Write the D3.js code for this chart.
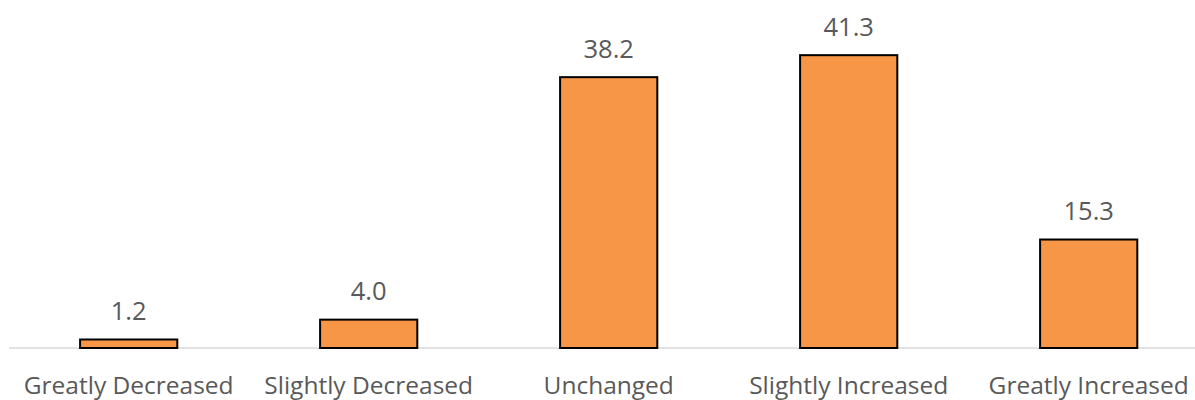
<!DOCTYPE html>
<html>
<head>
<meta charset="utf-8">
<script src="https://cdn.jsdelivr.net/npm/d3@7"></script>
<style>
  html, body { margin: 0; padding: 0; background: #ffffff; }
  svg { display: block; }
</style>
</head>
<body>
<svg id="chart" width="1195" height="400"></svg>
<script>
// Survey responses: share of respondents (%) per category
const categories = ["Greatly Decreased", "Slightly Decreased", "Unchanged", "Slightly Increased", "Greatly Increased"];
const values = [1.2, 4.0, 38.2, 41.3, 15.3];
const valueLabels = ["1.2", "4.0", "38.2", "41.3", "15.3"];

const svg = d3.select("#chart");
const baseline = 348;

const x = d3.scaleBand()
  .domain(categories)
  .range([8.7, 1208.7])
  .paddingInner(0.595)
  .paddingOuter(0.2975);

const y = d3.scaleLinear()
  .domain([0, 45])
  .range([baseline, baseline - 45 * 7.09]);

const textColor = "#595959";
const fontFamily = "'Open Sans', sans-serif";

// horizontal category axis line
svg.append("line")
  .attr("x1", 9).attr("x2", 1195)
  .attr("y1", baseline).attr("y2", baseline)
  .attr("stroke", "#d9d9d9")
  .attr("stroke-width", 1.5);

// bars
svg.append("g").selectAll("rect")
  .data(values)
  .join("rect")
  .attr("x", (d, i) => x(categories[i]))
  .attr("width", x.bandwidth())
  .attr("y", d => y(d))
  .attr("height", d => baseline - y(d))
  .attr("fill", "#f79646")
  .attr("stroke", "#000000")
  .attr("stroke-width", 2);

// value labels above bars
svg.append("g").selectAll("text")
  .data(values)
  .join("text")
  .attr("x", (d, i) => x(categories[i]) + x.bandwidth() / 2)
  .attr("y", d => y(d) - 19.5)
  .attr("text-anchor", "middle")
  .attr("fill", textColor)
  .style("font-family", fontFamily)
  .style("font-size", "25.5px")
  .text((d, i) => valueLabels[i]);

// category labels along the bottom
svg.append("g").selectAll("text")
  .data(categories)
  .join("text")
  .attr("x", d => x(d) + x.bandwidth() / 2)
  .attr("y", 394)
  .attr("text-anchor", "middle")
  .attr("fill", textColor)
  .style("font-family", fontFamily)
  .style("font-size", "24.5px")
  .text(d => d);
</script>
</body>
</html>
